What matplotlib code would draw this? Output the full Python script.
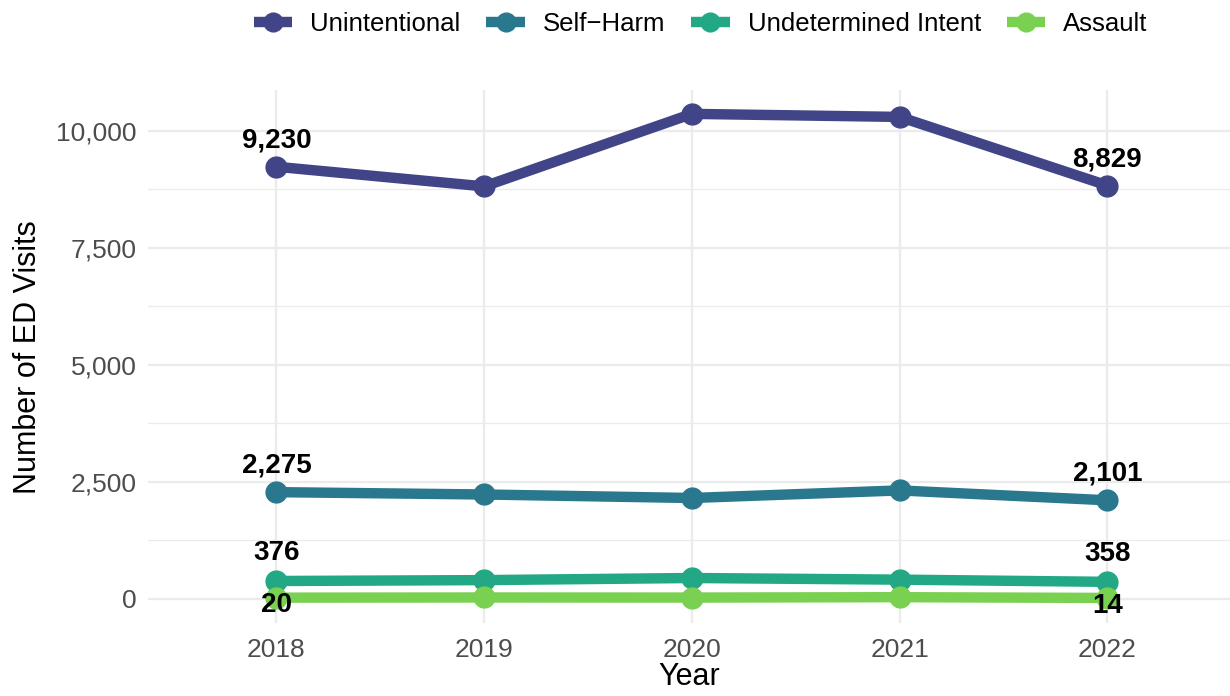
import numpy as np
import matplotlib.pyplot as plt
from matplotlib.ticker import FuncFormatter, MultipleLocator

plt.rcParams['font.family'] = ['Liberation Sans', 'DejaVu Sans']

# ED visits by intent, 2018-2022
years = [2018, 2019, 2020, 2021, 2022]
unintentional = [9230, 8810, 10360, 10295, 8829]
self_harm = [2275, 2225, 2150, 2312, 2101]
undetermined = [376, 395, 440, 405, 358]
assault = [20, 24, 22, 30, 14]

series_names = ['Unintentional', 'Self\u2212Harm', 'Undetermined Intent', 'Assault']
series_values = [unintentional, self_harm, undetermined, assault]
colors = ['#414487', '#2A788E', '#22A884', '#7AD151']
# label offset for first/last point (points): above for most, just below for assault
label_offsets = [19, 19, 20, -5.5]

fig = plt.figure(figsize=(12.3, 6.96), dpi=100)
ax = fig.add_axes([0.12, 0.105, 0.88, 0.765])

for name, vals, col, off in zip(series_names, series_values, colors, label_offsets):
    ax.plot(years, vals, color=col, linewidth=7.5, marker='o', markersize=15,
            solid_capstyle='butt', label=name, zorder=3)
    for i in (0, len(years) - 1):
        ax.annotate(f'{vals[i]:,}', (years[i], vals[i]), xytext=(0, off),
                    textcoords='offset points', ha='center', va='center',
                    fontsize=20, fontweight='bold', color='black', zorder=5)

ax.set_xlim(2017.38, 2022.59)
ax.set_ylim(-520, 10860)
ax.set_xticks(years)
ax.yaxis.set_major_locator(MultipleLocator(2500))
ax.yaxis.set_minor_locator(MultipleLocator(1250))
ax.yaxis.set_major_formatter(FuncFormatter(lambda v, p: f'{int(v):,}'))

ax.grid(True, which='major', color='#EBEBEB', linewidth=1.6)
ax.grid(True, which='minor', axis='y', color='#EBEBEB', linewidth=0.9)
ax.set_axisbelow(True)
for s in ax.spines.values():
    s.set_visible(False)
ax.tick_params(which='both', length=0, labelsize=19, labelcolor='#4D4D4D')
ax.tick_params(axis='x', pad=11)
ax.tick_params(axis='y', pad=8)

ax.set_xlabel('Year', fontsize=22, labelpad=0)
ax.set_ylabel('Number of ED Visits', fontsize=22, labelpad=9)

ax.legend(loc='center', bbox_to_anchor=(0.511, 1.125), ncol=4, frameon=False,
          fontsize=18.5, handlelength=1.5, columnspacing=1.0, handletextpad=0.7,
          markerscale=0.9, borderaxespad=0)

fig.savefig('out.png', dpi=100)
